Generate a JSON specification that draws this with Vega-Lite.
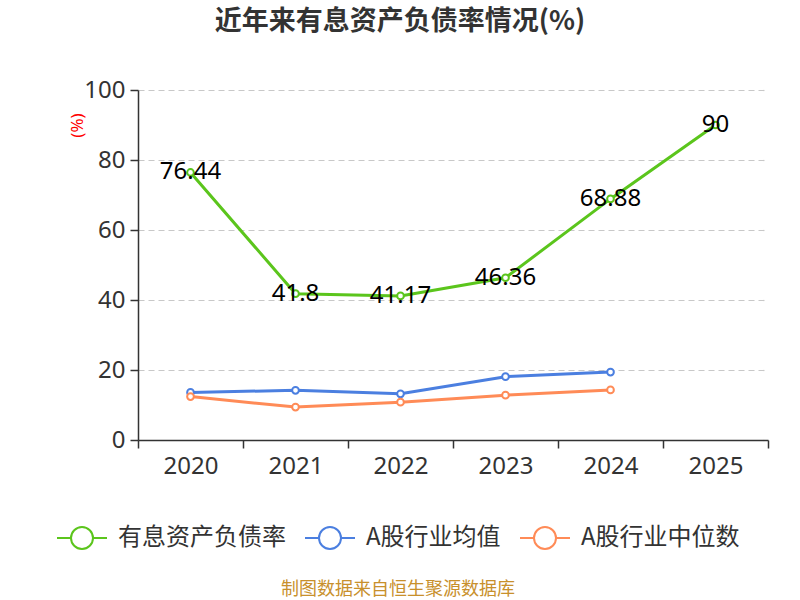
{
  "$schema": "https://vega.github.io/schema/vega-lite/v6.json",
  "width": 630,
  "height": 350,
  "autosize": {"type": "none"},
  "padding": {"left": 138, "top": 90, "right": 32, "bottom": 160},
  "background": "white",
  "config": {
    "font": "Noto Sans, Noto Sans CJK SC",
    "view": {"stroke": null}
  },
  "title": {
    "text": "近年来有息资产负债率情况(%)",
    "font": "Noto Sans CJK SC",
    "fontSize": 27,
    "fontWeight": "bold",
    "color": "#333333",
    "anchor": "middle",
    "frame": "group",
    "dx": -53,
    "offset": 42
  },
  "data": {
    "values": [
      {"year": "2020", "series": "有息资产负债率", "value": 76.44},
      {"year": "2021", "series": "有息资产负债率", "value": 41.8},
      {"year": "2022", "series": "有息资产负债率", "value": 41.17},
      {"year": "2023", "series": "有息资产负债率", "value": 46.36},
      {"year": "2024", "series": "有息资产负债率", "value": 68.88},
      {"year": "2025", "series": "有息资产负债率", "value": 90},
      {"year": "2020", "series": "A股行业均值", "value": 13.6},
      {"year": "2021", "series": "A股行业均值", "value": 14.2},
      {"year": "2022", "series": "A股行业均值", "value": 13.2},
      {"year": "2023", "series": "A股行业均值", "value": 18.1},
      {"year": "2024", "series": "A股行业均值", "value": 19.4},
      {"year": "2020", "series": "A股行业中位数", "value": 12.4},
      {"year": "2021", "series": "A股行业中位数", "value": 9.4},
      {"year": "2022", "series": "A股行业中位数", "value": 10.8},
      {"year": "2023", "series": "A股行业中位数", "value": 12.8},
      {"year": "2024", "series": "A股行业中位数", "value": 14.3}
    ]
  },
  "encoding": {
    "x": {
      "field": "year",
      "type": "ordinal",
      "scale": {"type": "band", "paddingInner": 0, "paddingOuter": 0},
      "axis": {
        "title": null,
        "labelAngle": 0,
        "labelFontSize": 24,
        "labelColor": "#333333",
        "labelPadding": 6,
        "tickBand": "extent",
        "tickSize": 8,
        "tickColor": "#333333",
        "tickWidth": 1.5,
        "domainColor": "#333333",
        "domainWidth": 1.5,
        "grid": false
      }
    },
    "y": {
      "field": "value",
      "type": "quantitative",
      "scale": {"domain": [0, 100]},
      "axis": {
        "title": "(%)",
        "titleColor": "#ff0000",
        "titleFontSize": 17,
        "titleFontWeight": "normal",
        "titleAngle": -90,
        "titleX": -61,
        "titleY": 35,
        "titleAlign": "center",
        "titleBaseline": "middle",
        "values": [0, 20, 40, 60, 80, 100],
        "labelFontSize": 24,
        "labelColor": "#333333",
        "labelPadding": 5,
        "tickSize": 8,
        "tickColor": "#333333",
        "tickWidth": 1.5,
        "domainColor": "#333333",
        "domainWidth": 1.5,
        "gridColor": "#c8c8c8",
        "gridDash": [6, 4],
        "gridWidth": 1.2
      }
    }
  },
  "layer": [
    {
      "mark": {"type": "line", "strokeWidth": 3},
      "encoding": {
        "color": {
          "field": "series",
          "type": "nominal",
          "scale": {
            "domain": ["有息资产负债率", "A股行业均值", "A股行业中位数"],
            "range": ["#5bc51c", "#4b7fe0", "#ff8b57"]
          },
          "legend": {
            "orient": "none",
            "legendX": -82,
            "legendY": 422,
            "direction": "horizontal",
            "symbolType": "M-1,0L-0.44,0M0.44,0L1,0M0.44,0A0.44,0.44,0,1,1,-0.44,0A0.44,0.44,0,1,1,0.44,0",
            "symbolSize": 2500,
            "symbolStrokeWidth": 2,
            "symbolFillColor": "white",
            "labelFontSize": 24,
            "labelFont": "Noto Sans CJK SC",
            "labelColor": "#333333",
            "labelOffset": 10,
            "labelLimit": 400,
            "columnPadding": 15,
            "title": "制图数据来自恒生聚源数据库",
            "titleFont": "Noto Sans CJK SC",
            "titleLimit": 600,
            "titleOrient": "bottom",
            "titleAnchor": "middle",
            "titleColor": "#c8902c",
            "titleFontSize": 18,
            "titleFontWeight": "normal",
            "titlePadding": 28,
            "encode": {"symbols": {"update": {"fill": {"value": "white"}}}}
          }
        }
      }
    },
    {
      "mark": {"type": "point", "filled": true, "fill": "white", "size": 45, "strokeWidth": 2, "opacity": 1},
      "encoding": {
        "stroke": {"field": "series", "type": "nominal", "scale": {"domain": ["有息资产负债率", "A股行业均值", "A股行业中位数"], "range": ["#5bc51c", "#4b7fe0", "#ff8b57"]}, "legend": null}
      }
    },
    {
      "transform": [{"filter": "datum.series === '有息资产负债率'"}],
      "mark": {"type": "text", "fontSize": 24, "color": "#000000", "baseline": "middle", "align": "center"},
      "encoding": {
        "text": {"field": "value", "type": "quantitative"}
      }
    }
  ]
}
